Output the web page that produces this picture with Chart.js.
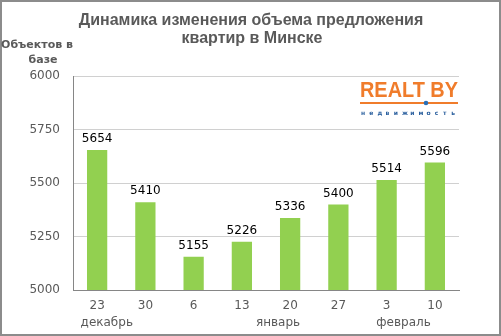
<!DOCTYPE html>
<html>
<head>
<meta charset="utf-8">
<script src="https://cdn.jsdelivr.net/npm/chart.js@4/dist/chart.umd.min.js"></script>
<style>
  html, body { margin: 0; padding: 0; background: #fff; }
  #wrap { position: relative; width: 501px; height: 336px; }
</style>
</head>
<body>
<div id="wrap"><canvas id="chart" width="501" height="336"></canvas></div>
<script>
const weeks = ["23", "30", "6", "13", "20", "27", "3", "10"];
const listings = [5654, 5410, 5155, 5226, 5336, 5400, 5514, 5596];
const months = ["декабрь", "январь", "февраль"];
const monthAt = [0.2, 3.75, 6.35];   // category index under which each month name sits
const titleLines = ["Динамика изменения объема предложения", "квартир в Минске"];
const axisTitle = ["Объектов в", "базе"];

const GREY = "#595959";

const frame = {
  id: "frame",
  afterDraw(chart) {
    const c = chart.ctx;
    c.save();
    c.strokeStyle = "#8c8c8c";
    c.lineWidth = 2;
    c.strokeRect(1, 1, chart.width - 2, chart.height - 2);

    // heading
    c.fillStyle = GREY;
    c.textAlign = "center";
    c.textBaseline = "middle";
    c.font = "bold 16px 'Liberation Sans', Arial, sans-serif";
    c.fillText(titleLines[0], 251, 21);
    c.fillText(titleLines[1], 252, 39);

    // y axis caption
    c.font = "bold 11px 'DejaVu Sans', sans-serif";
    c.fillText(axisTitle[0], 37, 45);
    c.fillText(axisTitle[1], 43, 60);

    // month row
    const x = chart.scales.x;
    c.font = "12px 'DejaVu Sans', sans-serif";
    const step = x.getPixelForValue(1) - x.getPixelForValue(0);
    months.forEach((m, i) => {
      const base = x.getPixelForValue(Math.floor(monthAt[i]));
      c.fillText(m, base + (monthAt[i] % 1) * step, 323);
    });

    // logo
    c.textAlign = "left";
    c.fillStyle = "#f07c2b";
    c.font = "bold 22px 'Liberation Sans', Arial, sans-serif";
    const brand = "REALT BY";
    const w = c.measureText(brand).width;
    c.save();
    c.translate(360, 91);
    c.scale(98 / w, 1);
    c.fillText(brand, 0, 0);
    c.restore();
    c.fillRect(360, 102, 98, 2);
    c.fillStyle = "#2a6fb5";
    c.beginPath();
    c.arc(426, 103, 2.3, 0, Math.PI * 2);
    c.fill();
    c.font = "bold 6px 'DejaVu Sans', sans-serif";
    c.fillStyle = "#2a5f9e";
    const small = "недвижимость";
    for (let i = 0; i < small.length; i++) c.fillText(small[i], 361 + i * 8.2, 113);
    c.restore();
  }
};

const valueLabels = {
  id: "valueLabels",
  afterDatasetsDraw(chart) {
    const c = chart.ctx;
    const meta = chart.getDatasetMeta(0);
    c.save();
    c.fillStyle = "#000";
    c.font = "12px 'DejaVu Sans', sans-serif";
    c.textAlign = "center";
    c.textBaseline = "bottom";
    meta.data.forEach((bar, i) => {
      c.fillText(String(listings[i]), bar.x, bar.y - 5);
    });
    c.restore();
  }
};

new Chart(document.getElementById("chart"), {
  type: "bar",
  data: {
    labels: weeks,
    datasets: [{
      data: listings,
      backgroundColor: "#92d050",
      barPercentage: 0.42,
      categoryPercentage: 1,
    }],
  },
  options: {
    responsive: false,
    animation: false,
    events: [],
    layout: { padding: { top: 76, right: 42, left: 0, bottom: 20 } },
    plugins: { legend: { display: false }, tooltip: { enabled: false } },
    scales: {
      x: {
        grid: { display: false, drawTicks: false },
        border: { color: "#868686", width: 1 },
        ticks: { color: GREY, font: { size: 12, family: "'DejaVu Sans', sans-serif" }, padding: 9 },
        afterFit(s) { s.height = 26; },
      },
      y: {
        min: 5000, max: 6000,
        ticks: {
          stepSize: 250, color: GREY, padding: 13,
          font: { size: 12, family: "'DejaVu Sans', sans-serif" },
          callback: v => String(v),
        },
        grid: { color: "#d0d0d0", drawTicks: false },
        border: { color: "#868686", width: 1 },
        afterFit(s) { s.width = 73; },
      },
    },
  },
  plugins: [frame, valueLabels],
});
</script>
</body>
</html>
